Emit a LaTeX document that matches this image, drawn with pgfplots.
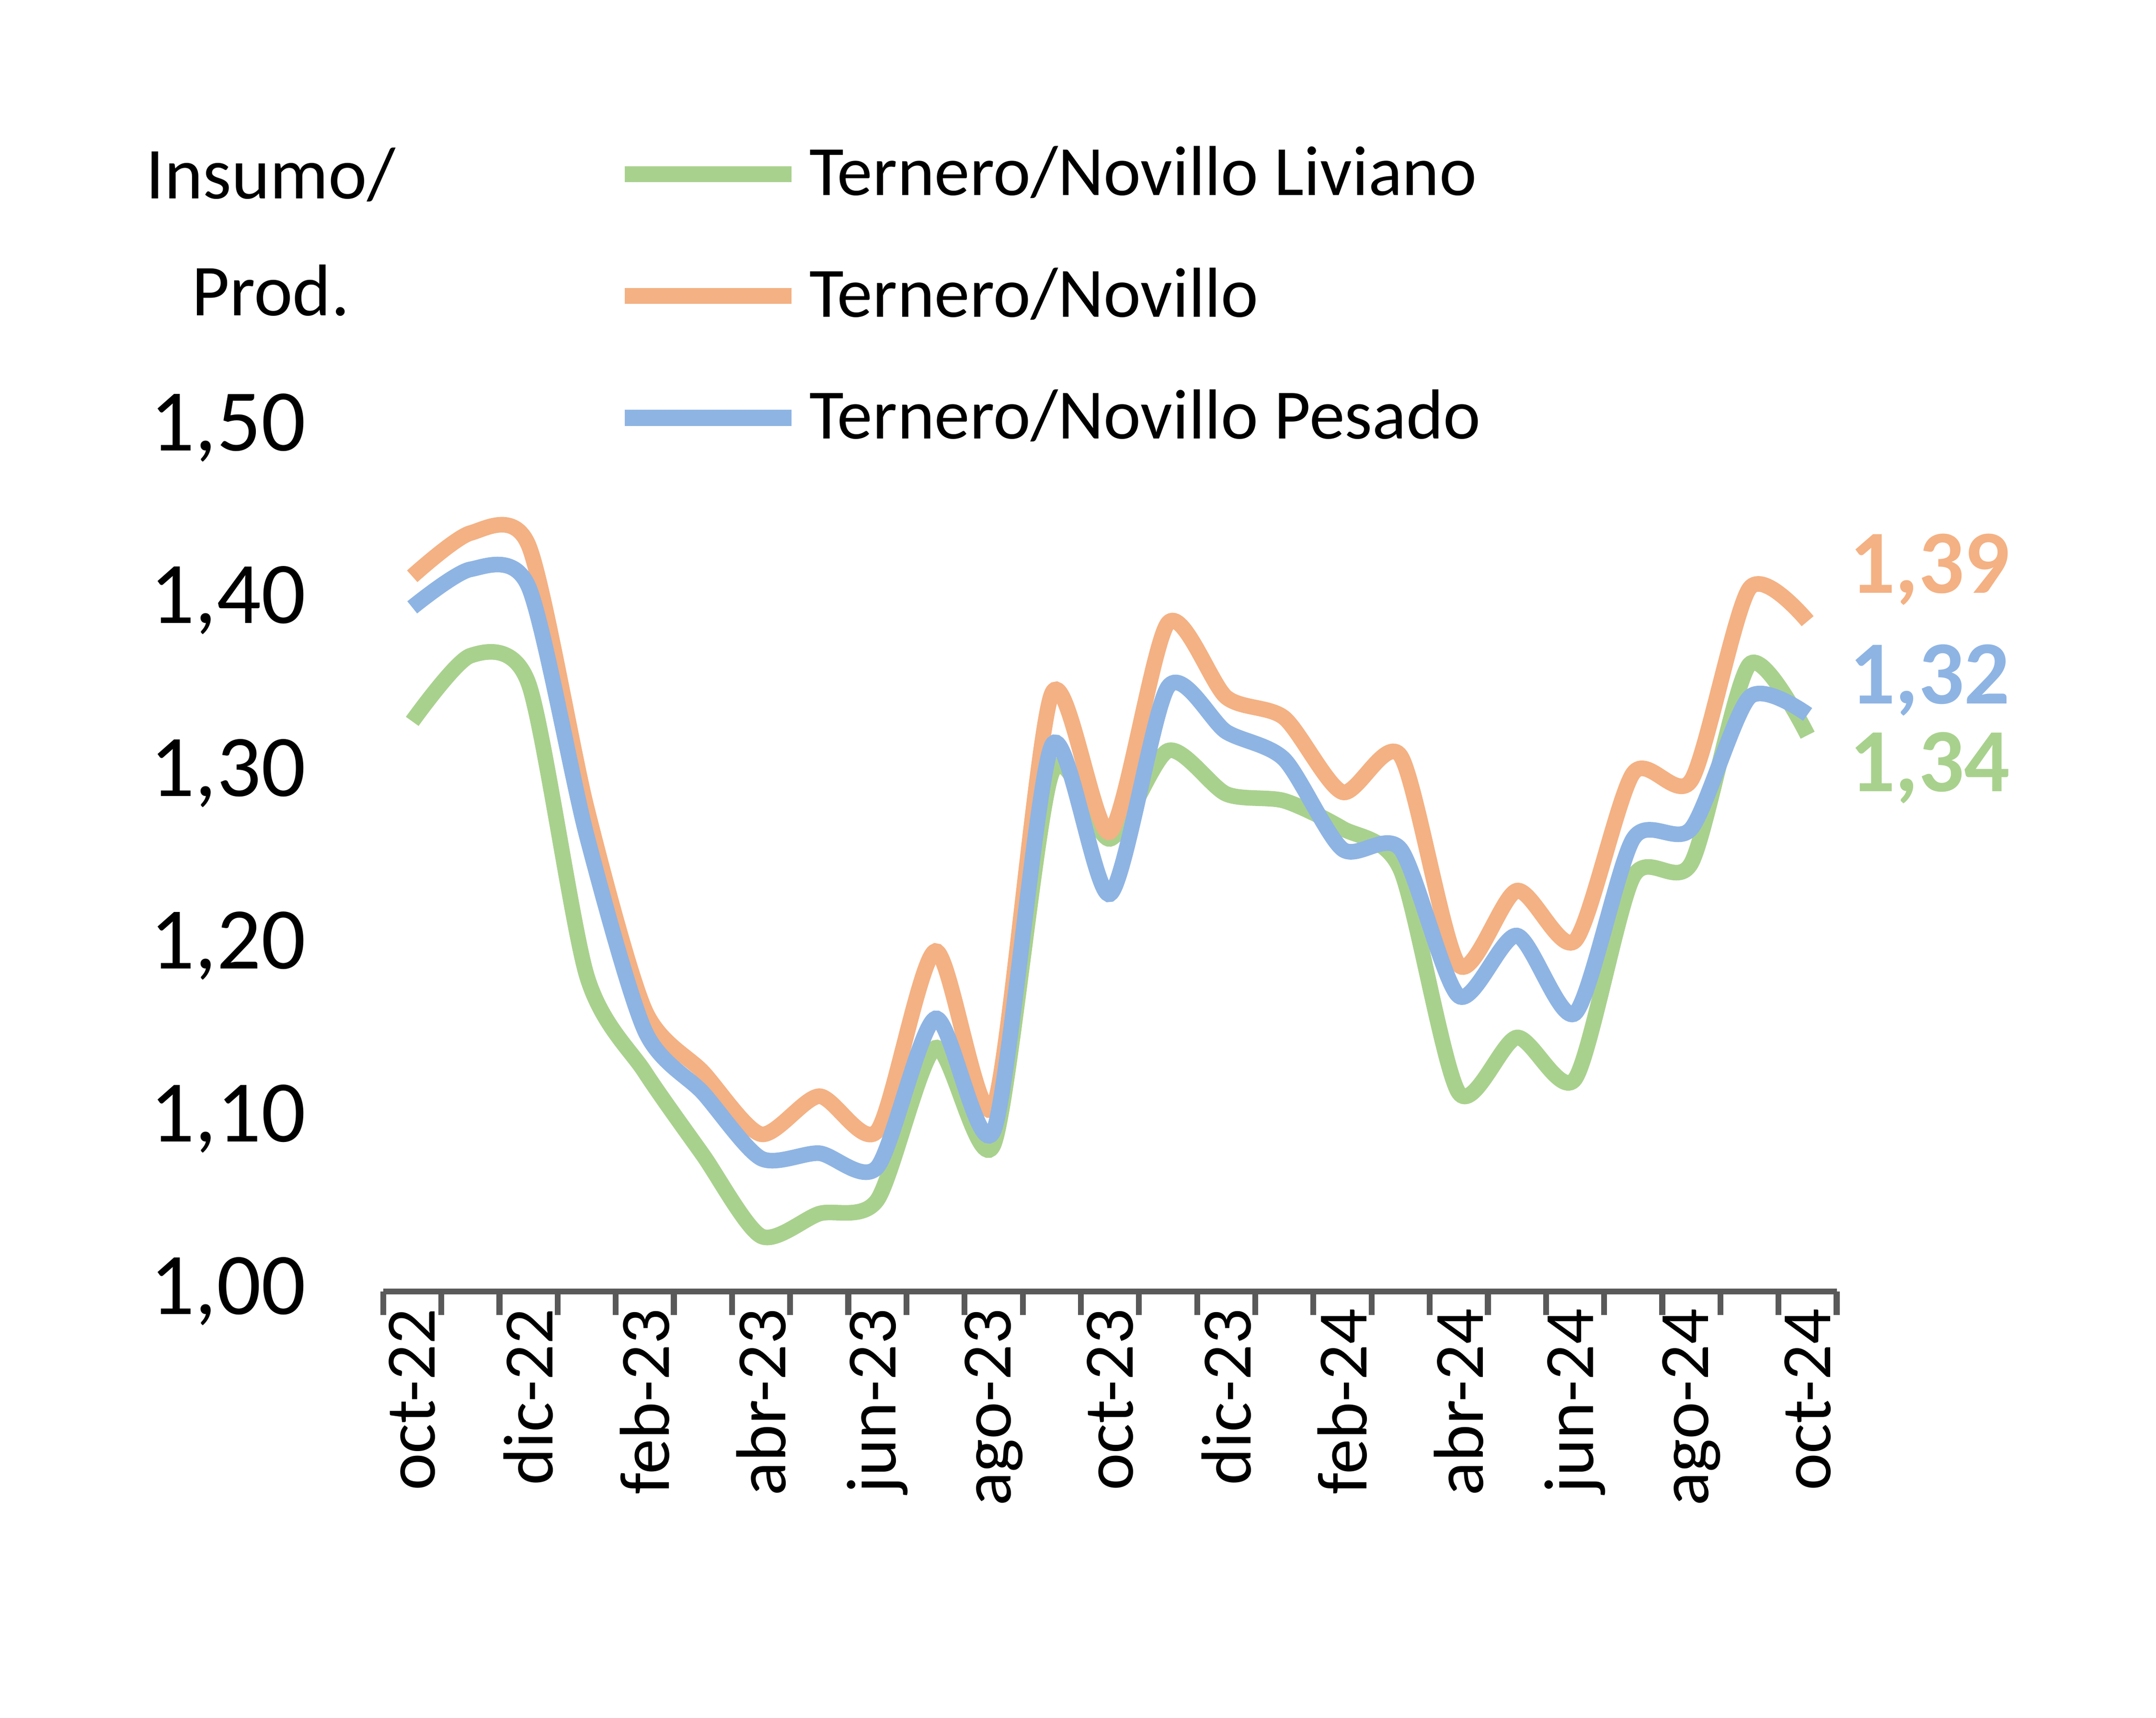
\documentclass[border=0pt]{standalone}
\usepackage{pgfplots}
\pgfplotsset{compat=1.18}
\usepackage{fontspec}
\setmainfont{Carlito}
\definecolor{cg}{HTML}{A9D18E}
\definecolor{co}{HTML}{F4B183}
\definecolor{cb}{HTML}{8EB4E3}
\begin{document}
\begin{tikzpicture}
\path (0,0) rectangle (15.53cm,12.37cm);
\begin{axis}[at={(2.76cm,3.07cm)}, anchor=south west, scale only axis,
 width=10.47cm, height=6.22cm,
 xmin=-0.5, xmax=24.5, ymin=1.0, ymax=1.5,
 axis x line*=bottom, axis y line=none,
 ytick=\empty,
 xtick={0,2,...,24},
 xticklabels={oct-22,dic-22,feb-23,abr-23,jun-23,ago-23,oct-23,dic-23,feb-24,abr-24,jun-24,ago-24,oct-24},
 x tick label style={rotate=90, anchor=east, font=\fontsize{14.5}{17}\selectfont},
 minor xtick={-0.5,0.5,...,24.5},
 major tick length=0pt, minor tick length=0.17cm,
 tick align=outside, tick style={draw=gray!70!black, line width=1.2pt},
 axis line style={draw=gray!70!black, line width=1.2pt},
 every outer x axis line/.append style={-},
 clip=false,
 legend style={at={(0.15,1.35)}, anchor=north west, draw=none, fill=none,
   font=\fontsize{14.5}{17}\selectfont, row sep=0.33cm, cells={anchor=west}},
 legend image code/.code={\draw[#1, line width=3.3pt] (0,0)--(1.2cm,0);},
 every axis plot/.append style={line width=3.2pt, smooth, tension=0.45, mark=none},
]
\addplot[cg] coordinates {(0,1.330)(1,1.368)(2,1.352)(3,1.183)(4,1.127)(5,1.079)(6,1.032)(7,1.045)(8,1.053)(9,1.141)(10,1.085)(11,1.300)(12,1.262)(13,1.313)(14,1.288)(15,1.284)(16,1.268)(17,1.244)(18,1.115)(19,1.147)(20,1.123)(21,1.240)(22,1.248)(23,1.363)(24,1.322)};
\addlegendentry{Ternero/Novillo Liviano}
\addplot[co] coordinates {(0,1.414)(1,1.439)(2,1.432)(3,1.280)(4,1.163)(5,1.127)(6,1.091)(7,1.113)(8,1.093)(9,1.197)(10,1.107)(11,1.346)(12,1.266)(13,1.387)(14,1.344)(15,1.332)(16,1.289)(17,1.310)(18,1.189)(19,1.232)(20,1.203)(21,1.300)(22,1.296)(23,1.407)(24,1.388)};
\addlegendentry{Ternero/Novillo}
\addplot[cb] coordinates {(0,1.396)(1,1.418)(2,1.408)(3,1.264)(4,1.151)(5,1.115)(6,1.077)(7,1.080)(8,1.072)(9,1.158)(10,1.093)(11,1.316)(12,1.230)(13,1.350)(14,1.324)(15,1.308)(16,1.256)(17,1.256)(18,1.171)(19,1.206)(20,1.161)(21,1.262)(22,1.268)(23,1.344)(24,1.334)};
\addlegendentry{Ternero/Novillo Pesado}
\foreach \v/\t in {1.0/{1,00},1.1/{1,10},1.2/{1,20},1.3/{1,30},1.4/{1,40},1.5/{1,50}}{
  \edef\tmp{\noexpand\node[anchor=east, font=\noexpand\fontsize{18}{20}\noexpand\selectfont, inner sep=0pt] at (axis cs:-0.5,\v) [xshift=-0.55cm] {\t};}\tmp}
\end{axis}
\node[align=center, font=\fontsize{15}{24}\selectfont] at (1.95cm,10.7cm) {Insumo/\\Prod.};
\node[text=co, font=\bfseries\fontsize{18.5}{21}\selectfont] at (13.9cm,8.27cm) {1,39};
\node[text=cb, font=\bfseries\fontsize{18.5}{21}\selectfont] at (13.9cm,7.47cm) {1,32};
\node[text=cg, font=\bfseries\fontsize{18.5}{21}\selectfont] at (13.9cm,6.84cm) {1,34};
\end{tikzpicture}
\end{document}
